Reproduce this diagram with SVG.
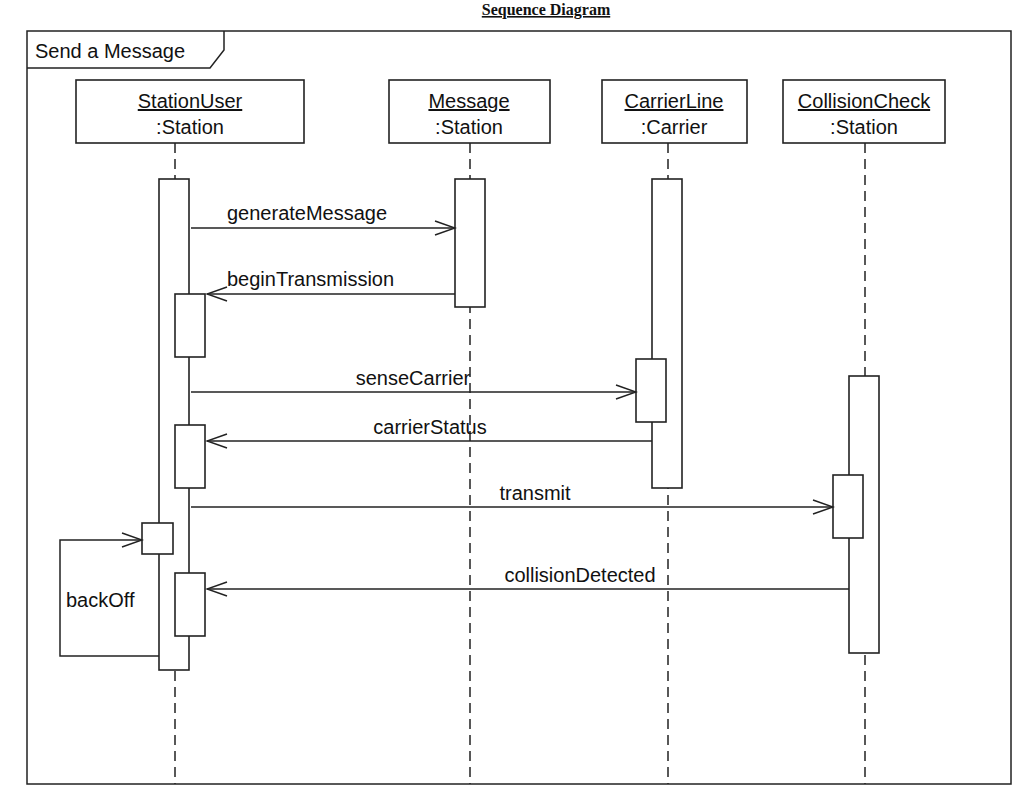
<svg xmlns="http://www.w3.org/2000/svg" width="1024" height="796" viewBox="0 0 1024 796">
<style>
.b{fill:#fff;stroke:#222;stroke-width:1.6}
.l{stroke:#222;stroke-width:1.5;fill:none}
.d{stroke:#222;stroke-width:1.5;stroke-dasharray:10 6;fill:none}
text{font-family:"Liberation Sans",Arial,sans-serif;font-size:20px;fill:#111}
.c{text-anchor:middle}
</style>
<defs>
<marker id="a" markerWidth="24" markerHeight="16" refX="22" refY="8" orient="auto" markerUnits="userSpaceOnUse">
<path d="M2,1 L22,8 L2,15" fill="none" stroke="#222" stroke-width="1.5"/>
</marker>
</defs>
<rect width="1024" height="796" fill="#fff"/>
<text x="546" y="15" class="c" style="font-family:'Liberation Serif',serif;font-weight:bold;font-size:16px;text-decoration:underline">Sequence Diagram</text>
<g id="frame">
<rect x="27" y="31" width="984" height="753" class="l"/>
<path d="M27,68 H210 L224,50 V31" class="l"/>
<text x="35" y="58">Send a Message</text>
</g>
<g id="lifelines">
<path d="M175,143 V784 M470,143 V784 M668,143 V784 M865,143 V784" class="d"/>
</g>
<g id="StationUser">
<rect x="76" y="80" width="228" height="63" class="b"/>
<text x="190" y="108" class="c" text-decoration="underline">StationUser</text>
<text x="190" y="134" class="c">:Station</text>
<rect x="159" y="179" width="30" height="491" class="b"/>
<rect x="175" y="294" width="30" height="63" class="b"/>
<rect x="175" y="425" width="30" height="63" class="b"/>
<rect x="142" y="523" width="31" height="31" class="b"/>
<rect x="175" y="573" width="30" height="63" class="b"/>
</g>
<g id="Message">
<rect x="389" y="80" width="161" height="63" class="b"/>
<text x="469" y="108" class="c" text-decoration="underline">Message</text>
<text x="469" y="134" class="c">:Station</text>
<rect x="455" y="179" width="30" height="128" class="b"/>
</g>
<g id="CarrierLine">
<rect x="602" y="80" width="145" height="63" class="b"/>
<text x="674" y="108" class="c" text-decoration="underline">CarrierLine</text>
<text x="674" y="134" class="c">:Carrier</text>
<rect x="652" y="179" width="30" height="309" class="b"/>
<rect x="636" y="359" width="30" height="63" class="b"/>
</g>
<g id="CollisionCheck">
<rect x="783" y="80" width="162" height="63" class="b"/>
<text x="864" y="108" class="c" text-decoration="underline">CollisionCheck</text>
<text x="864" y="134" class="c">:Station</text>
<rect x="849" y="376" width="30" height="277" class="b"/>
<rect x="833" y="475" width="30" height="63" class="b"/>
</g>
<g id="connectors">
<path d="M191,228 H455" class="l" marker-end="url(#a)"/>
<text x="227" y="220">generateMessage</text>
<path d="M455,294 H207" class="l" marker-end="url(#a)"/>
<text x="227" y="286">beginTransmission</text>
<path d="M191,392 H636" class="l" marker-end="url(#a)"/>
<text x="413" y="385" class="c">senseCarrier</text>
<path d="M652,441 H207" class="l" marker-end="url(#a)"/>
<text x="430" y="434" class="c">carrierStatus</text>
<path d="M191,507 H833" class="l" marker-end="url(#a)"/>
<text x="535" y="500" class="c">transmit</text>
<path d="M849,589 H207" class="l" marker-end="url(#a)"/>
<text x="580" y="582" class="c">collisionDetected</text>
<path d="M159,656 H60 V540 H142" class="l" marker-end="url(#a)"/>
<text x="66" y="607">backOff</text>
</g>
</svg>
